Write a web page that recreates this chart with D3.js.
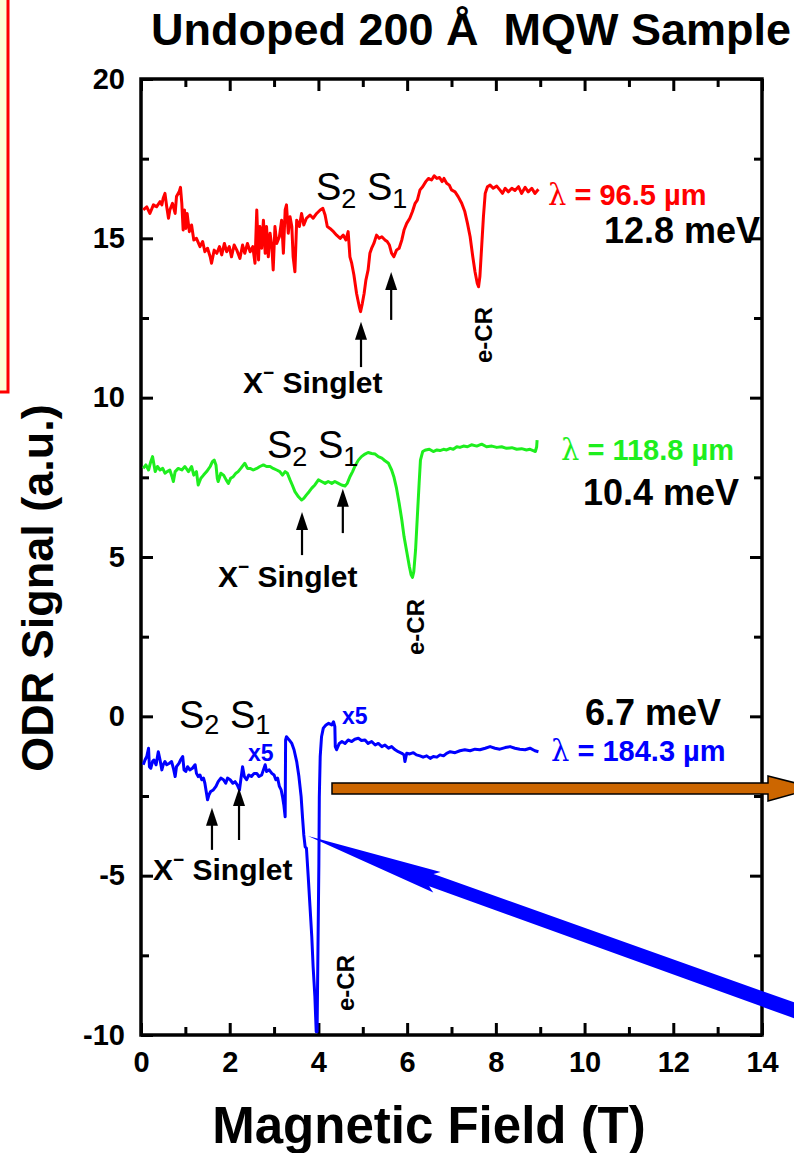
<!DOCTYPE html>
<html><head><meta charset="utf-8">
<script src="https://cdn.jsdelivr.net/npm/d3@7"></script>
<style>
body{margin:0;background:#fff}
svg{display:block}
text{font-family:"Liberation Sans",Arial,Helvetica,sans-serif}
</style>
</head><body>
<svg id="c" width="794" height="1153"></svg>
<script>
// ---------- data (Magnetic field in T, ODR signal in a.u.) ----------
const xTickValues = [0, 2, 4, 6, 8, 10, 12, 14];
const xMinorValues = [1, 3, 5, 7, 9, 11, 13];
const yTickValues = [-10, -5, 0, 5, 10, 15, 20];
const yMinorValues = [-7.5, -2.5, 2.5, 7.5, 12.5, 17.5];

// lambda = 96.5 um (12.8 meV)
const redTrace = [[0.05,15.89],[0.13,15.99],[0.20,15.78],[0.28,16.05],[0.35,15.99],[0.43,16.15],[0.47,16.05],[0.50,16.26],[0.54,16.41],[0.58,15.99],[0.62,15.63],[0.65,15.89],[0.71,16.10],[0.77,15.78],[0.80,16.31],[0.86,16.46],[0.89,16.60],[0.92,16.10],[0.95,15.26],[0.98,15.89],[1.01,15.31],[1.04,15.78],[1.09,15.21],[1.14,15.42],[1.19,14.95],[1.25,15.00],[1.33,14.74],[1.39,14.90],[1.44,14.58],[1.50,14.69],[1.56,14.42],[1.59,14.22],[1.65,14.63],[1.71,14.53],[1.77,14.74],[1.82,14.48],[1.88,14.84],[1.93,14.58],[1.99,14.74],[2.04,14.42],[2.10,14.79],[2.16,14.63],[2.23,14.37],[2.29,14.79],[2.34,14.53],[2.40,14.84],[2.46,14.58],[2.52,14.74],[2.57,14.22],[2.61,15.89],[2.65,14.32],[2.68,15.37],[2.72,14.69],[2.76,15.57],[2.80,14.53],[2.83,15.37],[2.87,14.42],[2.91,15.16],[2.95,14.74],[2.98,14.01],[3.02,15.37],[3.06,14.84],[3.12,15.05],[3.17,15.57],[3.21,14.53],[3.25,15.89],[3.28,16.05],[3.32,15.16],[3.36,15.68],[3.40,15.37],[3.43,14.42],[3.47,13.95],[3.51,15.57],[3.57,15.37],[3.62,15.78],[3.67,15.42],[3.73,15.63],[3.81,15.73],[3.88,15.63],[3.96,15.78],[4.04,15.89],[4.10,15.94],[4.15,15.73],[4.20,15.37],[4.26,15.31],[4.34,15.21],[4.41,15.10],[4.49,15.00],[4.56,15.10],[4.62,14.95],[4.67,15.21],[4.71,14.42],[4.75,14.22],[4.80,13.85],[4.86,13.27],[4.92,12.86],[4.95,12.70],[4.99,12.96],[5.03,13.27],[5.07,13.69],[5.12,14.01],[5.16,14.53],[5.20,14.69],[5.25,14.84],[5.31,15.10],[5.37,15.00],[5.43,15.05],[5.50,14.95],[5.55,14.90],[5.60,14.79],[5.65,14.53],[5.70,14.42],[5.76,14.63],[5.82,14.69],[5.88,14.95],[5.93,15.26],[5.99,15.47],[6.06,15.63],[6.12,15.84],[6.18,16.10],[6.23,16.20],[6.29,16.52],[6.35,16.62],[6.42,16.78],[6.48,16.88],[6.55,16.83],[6.61,16.96],[6.67,16.88],[6.73,16.91],[6.79,16.78],[6.83,16.88],[6.89,16.73],[6.95,16.67],[7.00,16.52],[7.08,16.46],[7.15,16.31],[7.23,16.10],[7.30,15.84],[7.36,15.47],[7.42,15.05],[7.48,14.42],[7.53,13.95],[7.58,13.59],[7.61,13.48],[7.64,13.80],[7.68,14.74],[7.72,15.68],[7.76,16.41],[7.81,16.62],[7.87,16.67],[7.94,16.57],[8.02,16.64],[8.09,16.52],[8.15,16.41],[8.21,16.57],[8.28,16.46],[8.36,16.57],[8.43,16.50],[8.51,16.62],[8.58,16.41],[8.66,16.60],[8.73,16.46],[8.81,16.57],[8.88,16.41],[8.96,16.54]];

// lambda = 118.8 um (10.4 meV)
const greenTrace = [[0.05,7.78],[0.11,7.89],[0.17,7.73],[0.22,7.99],[0.26,8.15],[0.32,7.68],[0.37,7.84],[0.43,7.73],[0.49,7.78],[0.54,7.63],[0.59,7.68],[0.65,7.73],[0.70,7.52],[0.73,7.37],[0.77,7.68],[0.84,7.78],[0.92,7.73],[0.99,7.84],[1.07,7.68],[1.14,7.84],[1.19,7.57],[1.25,7.68],[1.29,7.26],[1.35,7.47],[1.41,7.57],[1.48,7.68],[1.56,7.84],[1.61,7.99],[1.65,8.04],[1.69,7.89],[1.72,7.47],[1.74,7.37],[1.80,7.63],[1.86,7.57],[1.92,7.42],[1.97,7.31],[2.02,7.47],[2.08,7.52],[2.14,7.63],[2.19,7.68],[2.25,7.78],[2.31,7.89],[2.34,7.94],[2.40,7.78],[2.46,7.78],[2.53,7.73],[2.61,7.78],[2.68,7.84],[2.76,7.89],[2.83,7.84],[2.91,7.84],[2.98,7.78],[3.06,7.73],[3.13,7.68],[3.19,7.57],[3.25,7.68],[3.30,7.63],[3.36,7.42],[3.41,7.26],[3.47,7.05],[3.55,6.89],[3.62,6.79],[3.67,6.84],[3.73,6.95],[3.79,7.05],[3.85,7.16],[3.92,7.26],[4.00,7.42],[4.07,7.37],[4.15,7.31],[4.22,7.37],[4.30,7.31],[4.37,7.37],[4.45,7.31],[4.52,7.26],[4.60,7.23],[4.65,7.31],[4.71,7.52],[4.77,7.68],[4.82,7.84],[4.90,8.04],[4.97,8.15],[5.05,8.23],[5.12,8.28],[5.20,8.25],[5.28,8.23],[5.35,8.15],[5.43,8.10],[5.50,8.02],[5.58,7.94],[5.65,7.73],[5.70,7.52],[5.76,7.16],[5.82,6.69],[5.88,6.16],[5.93,5.64],[5.99,5.17],[6.05,4.70],[6.09,4.44],[6.12,4.36],[6.15,4.54],[6.19,5.22],[6.23,6.27],[6.27,7.31],[6.30,8.04],[6.35,8.31],[6.42,8.36],[6.50,8.38],[6.59,8.31],[6.67,8.36],[6.74,8.34],[6.82,8.38],[6.89,8.36],[6.97,8.41],[7.04,8.38],[7.12,8.46],[7.19,8.44],[7.27,8.48],[7.36,8.46],[7.45,8.52],[7.57,8.48],[7.68,8.54],[7.79,8.46],[7.91,8.48],[8.02,8.44],[8.13,8.46],[8.24,8.41],[8.36,8.43],[8.47,8.38],[8.58,8.40],[8.69,8.36],[8.77,8.38],[8.84,8.34],[8.89,8.31],[8.92,8.46],[8.93,8.67]];

// lambda = 184.3 um (6.7 meV)
const blueTrace = [[0.05,-1.52],[0.09,-1.37],[0.13,-1.26],[0.17,-1.00],[0.19,-1.58],[0.22,-1.63],[0.26,-1.42],[0.29,-1.37],[0.34,-1.52],[0.39,-1.11],[0.43,-1.37],[0.47,-1.68],[0.50,-1.52],[0.54,-1.42],[0.58,-1.52],[0.64,-1.47],[0.69,-1.42],[0.73,-1.63],[0.77,-1.89],[0.80,-1.58],[0.86,-1.47],[0.89,-1.37],[0.94,-1.26],[0.97,-1.68],[1.01,-1.73],[1.05,-1.58],[1.10,-1.68],[1.16,-1.63],[1.22,-1.52],[1.25,-1.79],[1.29,-1.89],[1.33,-1.84],[1.37,-1.99],[1.41,-1.94],[1.44,-2.10],[1.47,-2.36],[1.50,-2.62],[1.53,-2.47],[1.57,-2.36],[1.63,-2.31],[1.69,-2.20],[1.74,-2.05],[1.80,-1.94],[1.86,-1.99],[1.91,-2.10],[1.95,-1.94],[2.01,-1.99],[2.07,-2.10],[2.12,-2.05],[2.17,-2.15],[2.22,-2.31],[2.25,-1.99],[2.29,-1.58],[2.33,-1.89],[2.38,-1.99],[2.43,-1.84],[2.49,-1.89],[2.55,-1.79],[2.61,-1.79],[2.66,-1.89],[2.72,-1.84],[2.76,-1.68],[2.80,-1.52],[2.83,-1.73],[2.89,-1.68],[2.95,-1.79],[3.00,-1.84],[3.04,-1.99],[3.08,-1.94],[3.12,-2.20],[3.16,-2.31],[3.19,-2.52],[3.22,-2.78],[3.25,-3.15],[3.26,-0.74],[3.28,-0.64],[3.34,-0.74],[3.40,-0.85],[3.45,-1.05],[3.51,-1.42],[3.56,-1.89],[3.61,-2.52],[3.64,-3.15],[3.67,-3.72],[3.70,-4.09],[3.73,-4.14],[3.77,-5.03],[3.81,-5.97],[3.85,-6.91],[3.88,-7.85],[3.92,-8.79],[3.95,-9.90],[3.97,-9.90],[3.99,-7.23],[4.01,-4.61],[4.02,-2.52],[4.04,-1.26],[4.07,-0.64],[4.11,-0.37],[4.17,-0.27],[4.23,-0.22],[4.30,-0.27],[4.34,-0.17],[4.37,-0.32],[4.38,-0.95],[4.41,-1.05],[4.47,-0.85],[4.53,-0.79],[4.60,-0.85],[4.67,-0.74],[4.75,-0.79],[4.82,-0.72],[4.90,-0.69],[4.97,-0.76],[5.05,-0.74],[5.12,-0.85],[5.20,-0.79],[5.28,-0.90],[5.35,-0.85],[5.43,-0.95],[5.50,-0.90],[5.58,-1.00],[5.65,-0.95],[5.73,-1.05],[5.80,-1.11],[5.88,-1.16],[5.93,-1.21],[5.95,-1.42],[5.99,-1.16],[6.06,-1.18],[6.14,-1.14],[6.21,-1.21],[6.29,-1.24],[6.36,-1.28],[6.44,-1.24],[6.52,-1.32],[6.59,-1.26],[6.67,-1.28],[6.74,-1.21],[6.82,-1.24],[6.89,-1.16],[6.97,-1.11],[7.08,-1.14],[7.19,-1.08],[7.30,-1.05],[7.42,-1.08],[7.53,-1.03],[7.64,-1.05],[7.76,-1.00],[7.87,-0.95],[7.98,-1.00],[8.09,-1.03],[8.21,-0.98],[8.32,-0.95],[8.43,-1.00],[8.54,-1.03],[8.66,-1.05],[8.77,-1.00],[8.88,-1.08],[8.96,-1.11]];

// arrows marking S2 / S1 features: [field, tail signal, tip signal]
const redMarks = [[4.96, 10.96, 12.38], [5.64, 12.44, 13.94]];
const greenMarks = [[3.63, 5.06, 6.41], [4.55, 5.75, 7.14]];
const blueMarks = [[1.60, -4.19, -2.87], [2.21, -3.88, -2.25]];

// ---------- layout ----------
const L = 141, R = 762, T = 79, B = 1035;
const svg = d3.select("#c");
const x = d3.scaleLinear().domain([0, 14]).range([L, R]);
const y = d3.scaleLinear().domain([-10, 20]).range([B, T]);

// clipped yellow box at left edge
svg.append("rect").attr("x", -20).attr("y", -6).attr("width", 28).attr("height", 398)
  .attr("fill", "#ffffd4").attr("stroke", "#ff0000").attr("stroke-width", 3);

// title
svg.append("text").attr("x", 151).attr("y", 45)
  .attr("font-size", 45).attr("font-weight", "bold").text("Undoped 200 Å\u00A0 MQW Sample");

// axes ticks (inward on all sides)
const fmt = d => String(d);
function styleAxis(g) {
  g.select(".domain").remove();
  g.selectAll(".tick line").attr("stroke", "#000").attr("stroke-width", 3);
  g.selectAll(".tick text").attr("font-size", 29).attr("font-weight", "bold")
    .attr("font-family", '"Liberation Sans",Arial,sans-serif').attr("fill", "#000");
}
svg.append("g").attr("transform", `translate(${L},0)`)
  .call(d3.axisLeft(y).tickValues(yTickValues).tickSize(-12).tickPadding(16).tickFormat(fmt))
  .call(styleAxis);
svg.append("g").attr("transform", `translate(${L},0)`)
  .call(d3.axisLeft(y).tickValues(yMinorValues).tickSize(-8).tickFormat(""))
  .call(styleAxis);
svg.append("g").attr("transform", `translate(${R},0)`)
  .call(d3.axisRight(y).tickValues(yTickValues).tickSize(-12).tickFormat(""))
  .call(styleAxis);
svg.append("g").attr("transform", `translate(${R},0)`)
  .call(d3.axisRight(y).tickValues(yMinorValues).tickSize(-8).tickFormat(""))
  .call(styleAxis);
svg.append("g").attr("transform", `translate(0,${B})`)
  .call(d3.axisBottom(x).tickValues(xTickValues).tickSize(-12).tickPadding(16).tickFormat(fmt))
  .call(styleAxis);
svg.append("g").attr("transform", `translate(0,${B})`)
  .call(d3.axisBottom(x).tickValues(xMinorValues).tickSize(-8).tickFormat(""))
  .call(styleAxis);
svg.append("g").attr("transform", `translate(0,${T})`)
  .call(d3.axisTop(x).tickValues(xTickValues).tickSize(-12).tickFormat(""))
  .call(styleAxis);
svg.append("g").attr("transform", `translate(0,${T})`)
  .call(d3.axisTop(x).tickValues(xMinorValues).tickSize(-8).tickFormat(""))
  .call(styleAxis);

// frame
svg.append("rect").attr("x", L).attr("y", T).attr("width", R - L).attr("height", B - T)
  .attr("fill", "none").attr("stroke", "#000").attr("stroke-width", 3.5);

// axis titles
svg.append("text").attr("x", 429).attr("y", 1143).attr("text-anchor", "middle")
  .attr("font-size", 51).attr("font-weight", "bold").text("Magnetic Field (T)");
svg.append("text").attr("transform", "translate(53,588) rotate(-90)").attr("text-anchor", "middle")
  .attr("font-size", 45).attr("font-weight", "bold").text("ODR Signal (a.u.)");

// traces
const line = d3.line().x(d => x(d[0])).y(d => y(d[1]));
[[redTrace, "#ff0000"], [greenTrace, "#1eee1e"], [blueTrace, "#0000ff"]].forEach(([data, col]) => {
  svg.append("path").datum(data).attr("d", line).attr("fill", "none")
    .attr("stroke", col).attr("stroke-width", 3).attr("stroke-linejoin", "round");
});

// black feature arrows
function upArrow(m) {
  const px = x(m[0]), y0 = y(m[1]), y1 = y(m[2]);
  svg.append("line").attr("x1", px).attr("x2", px).attr("y1", y0).attr("y2", y1 + 14)
    .attr("stroke", "#000").attr("stroke-width", 2.2);
  svg.append("path").attr("d", `M${px},${y1} L${px - 6},${y1 + 18} L${px + 6},${y1 + 18} Z`).attr("fill", "#000");
}
[...redMarks, ...greenMarks, ...blueMarks].forEach(upArrow);

// S2 S1 labels
function sLabel(px, py, sub) {
  const t = svg.append("text").attr("x", px).attr("y", py).attr("font-size", 38).attr("fill", "#000");
  t.append("tspan").text("S");
  t.append("tspan").attr("font-size", 27).attr("dy", sub).text("2");
  t.append("tspan").attr("dy", -sub).text(" S");
  t.append("tspan").attr("font-size", 27).attr("dy", sub).text("1");
}
sLabel(316, 200, 8); sLabel(267, 458, 8); sLabel(179, 728, 6);

// X- Singlet labels
function xLabel(px, py) {
  const t = svg.append("text").attr("x", px).attr("y", py).attr("font-size", 30).attr("font-weight", "bold");
  t.append("tspan").text("X");
  t.append("tspan").attr("font-size", 19).attr("dy", -14).text("−");
  t.append("tspan").attr("dy", 14).text(" Singlet");
}
xLabel(243, 393); xLabel(218, 587); xLabel(153, 880);

// e-CR labels (rotated)
function ecr(px, py) {
  svg.append("text").attr("transform", `translate(${px},${py}) rotate(-90)`).attr("text-anchor", "middle")
    .attr("font-size", 24).attr("font-weight", "bold").text("e-CR");
}
ecr(492, 335); ecr(424, 627); ecr(354, 983);

// wavelength / energy labels
function lam(px, py, txt, col) {
  const t = svg.append("text").attr("x", px).attr("y", py).attr("font-size", 29).attr("font-weight", "bold").attr("fill", col);
  t.append("tspan").attr("font-family", '"DejaVu Serif","Liberation Serif",serif').attr("font-weight", "normal").text("λ");
  t.append("tspan").text(" = " + txt);
}
lam(548, 205, "96.5 µm", "#ff0000");
lam(561, 460, "118.8 µm", "#1eee1e");
lam(551, 761, "184.3 µm", "#0000ff");
function energy(px, py, txt, anchor) {
  svg.append("text").attr("x", px).attr("y", py).attr("text-anchor", anchor)
    .attr("font-size", 36).attr("font-weight", "bold").text(txt);
}
energy(760, 243, "12.8 meV", "end");
energy(739, 505, "10.4 meV", "end");
energy(721, 725, "6.7 meV", "end");

// x5 markers
[[248, 761], [342, 724]].forEach(p => {
  svg.append("text").attr("x", p[0]).attr("y", p[1]).attr("font-size", 23).attr("font-weight", "bold")
    .attr("fill", "#0000ff").text("x5");
});

// orange horizontal arrow
svg.append("path").attr("d", "M332,783 L768,783 L768,776 L815,788 L768,801 L768,794 L332,794 Z")
  .attr("fill", "#cc6600").attr("stroke", "#000").attr("stroke-width", 1.5);

// big blue arrow pointing to e-CR dip
(function () {
  const tip = [308, 836], end = [810, 1016];
  const dx = end[0] - tip[0], dy = end[1] - tip[1], len = Math.hypot(dx, dy);
  const u = [dx / len, dy / len], n = [-u[1], u[0]];
  const hl = 137, hw = 11, sw = 6.5;
  const P = (a, b) => [tip[0] + u[0] * a + n[0] * b, tip[1] + u[1] * a + n[1] * b];
  const pts = [P(0, 0), P(hl, -hw), P(hl - 6, -sw), P(len, -sw - 1), P(len, sw + 1), P(hl - 6, sw), P(hl, hw)];
  svg.append("path").attr("d", "M" + pts.map(p => p.join(",")).join("L") + "Z").attr("fill", "#0000ff");
})();
</script>
</body></html>
